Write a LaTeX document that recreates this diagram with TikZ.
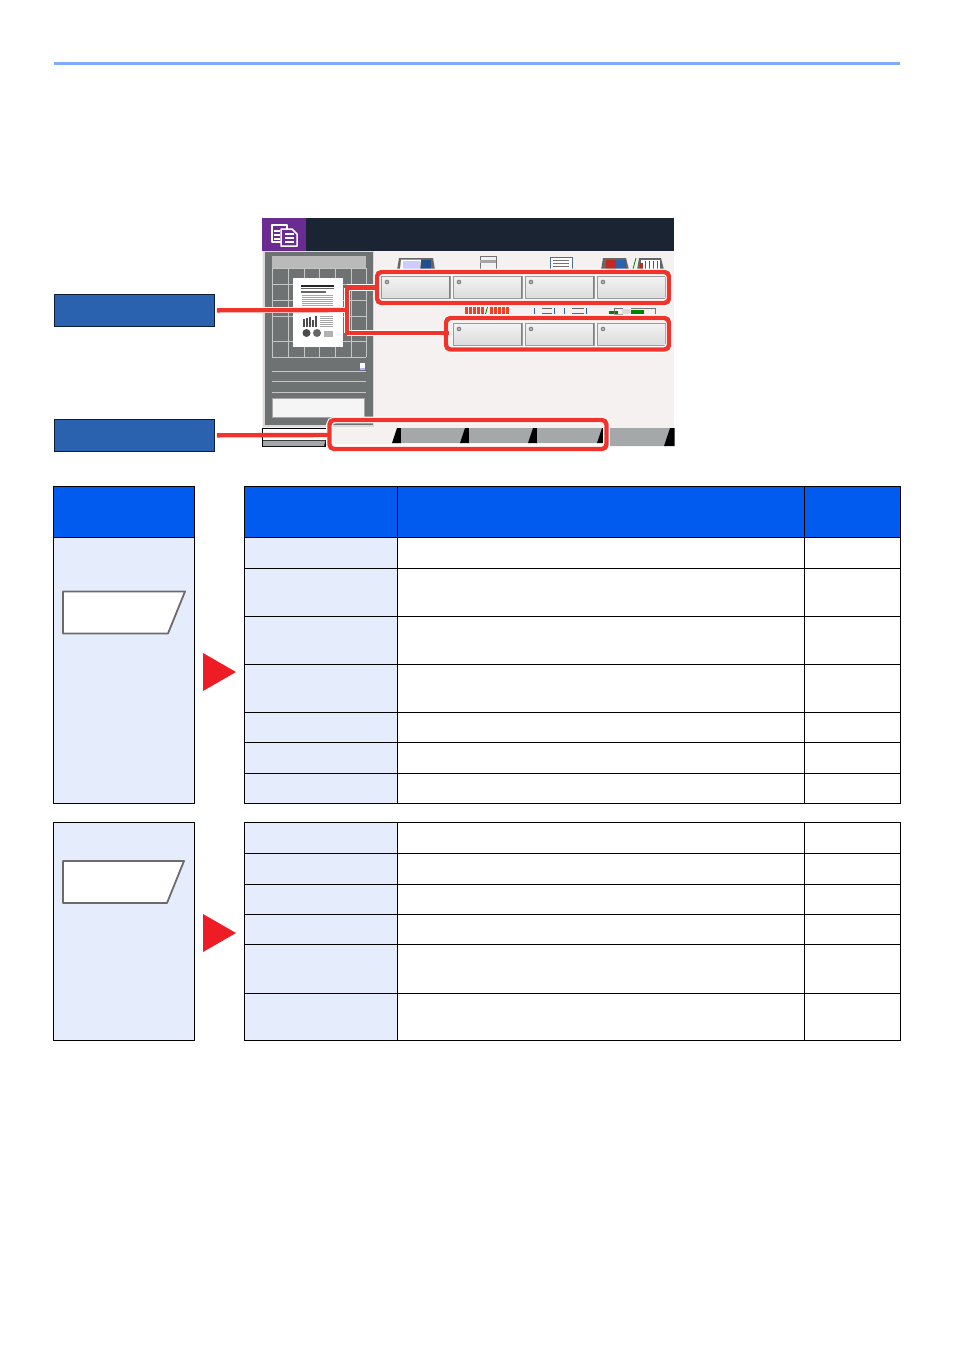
\documentclass[tikz,border=0pt]{standalone}
\usetikzlibrary{calc}
\definecolor{hdr}{HTML}{005BEE}
\definecolor{cellb}{HTML}{E5ECFC}
\definecolor{lab}{HTML}{2B62AF}
\definecolor{rd}{HTML}{F0342C}
\definecolor{tri}{HTML}{EE1C25}
\definecolor{scr}{HTML}{F5F1F0}
\definecolor{pan}{HTML}{6E7272}
\definecolor{tabg}{HTML}{A4A8A8}
\definecolor{dark}{HTML}{1A2433}
\definecolor{purp}{HTML}{6B2C91}
\definecolor{topl}{HTML}{80AAFA}
\tikzset{
 gridcell/.style={draw=black,line width=0.9pt},
 headcell/.style={gridcell,fill=hdr},
 labelcell/.style={gridcell,fill=cellb},
 plaincell/.style={gridcell,fill=white},
 halo/.style={draw=white,line width=6.8pt,rounded corners=5pt},
 redline/.style={draw=rd,line width=4.4pt,rounded corners=4.5pt},
 parabox/.style={draw=black!58,line width=1.8pt,fill=white,line join=round},
 calloutbox/.style={draw=black!70!lab,line width=0.5pt,fill=lab,inner sep=0pt},
 tabshape/.style={fill=tabg},
 sep/.style={fill=black},
 arrowtri/.style={fill=tri}
}
\newcommand{\keyb}[2]{%
 \fill[white!96!black] (#1-1,#2-1) rectangle (#1+71,#2+23);
 \fill[black!12,draw=black!40,line width=.5pt] (#1,#2) rectangle (#1+69,#2+22);
 \shade[top color=black!5,bottom color=black!13] (#1+1,#2+1) rectangle (#1+68,#2+20);
 \fill[black!50] (#1+68,#2) rectangle (#1+69.4,#2+22);
 \fill[black!50] (#1+6,#2+6) circle (2.3pt);
 \fill[black!20] (#1+6,#2+6) circle (1.1pt);}
\begin{document}
\begin{tikzpicture}[x=1pt,y=-1pt]
\useasboundingbox (0,0) rectangle (954,1350);
\fill[white] (0,0) rectangle (954,1350);
\draw[topl,line width=2.8pt] (54,63.5) -- (900,63.5);

% screen
\fill[scr] (262,251) rectangle (674,428);
\fill[dark] (306,218) rectangle (674,251);
\fill[purp] (262,218) rectangle (306,251);
% doc icon
\draw[white,line width=1.5pt,fill=purp,line join=round] (272,225) -- (287,225) -- (287,242) -- (272,242) -- cycle;
\draw[white,line width=1.5pt,fill=purp,line join=round] (281,229) -- (292,229) -- (297,234) -- (297,246) -- (281,246) -- cycle;
\foreach \yy in {234,238,242} \draw[white,line width=1.3pt] (285,\yy) -- (294,\yy);
\foreach \yy in {231,235,239} \draw[white,line width=1.3pt] (274,\yy) -- (280,\yy);

% left panel
\fill[white!85!black] (263,251) rectangle (374,427);
\fill[pan] (265,252) rectangle (373,425);
\fill[black!27] (272,256) rectangle (366,268);
\begin{scope}[draw=white!60!pan,line width=.5pt]
\foreach \xx in {272,288,304,319,335,351,366} \draw (\xx,268) -- (\xx,357);
\foreach \yy in {268,284,300,316,341,357} \draw (272,\yy) -- (366,\yy);
\foreach \yy in {371,381,392} \draw (272,\yy) -- (366,\yy);
\end{scope}
\fill[white] (293,278) rectangle (343,347);
\fill[black!85] (301,285) rectangle (334,286.6);
\fill[black!60] (301,288) rectangle (334,289.4);
\fill[black!60] (301,291) rectangle (326,292.6);
\foreach \yy in {295,297,299,301,303,305,307} \fill[black!35] (302,\yy) rectangle (333,\yy+.9);
\foreach \xx/\hh in {303/8,306/9,309/10,312/7,315/11} \fill[black!70] (\xx,327-\hh) rectangle (\xx+1.5,327);
\foreach \yy in {316,318,320,322,324,326} \fill[black!35] (320,\yy) rectangle (333,\yy+.9);
\fill[black!70] (306.5,333) circle (4pt);
\fill[black!60] (317,333) circle (4pt);
\fill[black!30] (324,331) rectangle (333,337);
\fill[white] (360,363) rectangle (364.5,370);
\fill[blue!30] (360,368) rectangle (364.5,370);
\fill[white!96!black,draw=black!35,line width=.5pt] (272,398) rectangle (364,417);

% icons above keys
\fill[black!60] (399,258) -- (433,258) -- (435,270) -- (397,270) -- cycle;
\fill[white] (401,259.5) -- (421,259.5) -- (420,270) -- (400,270) -- cycle;
\fill[blue!20] (403,261) rectangle (420,270);
\fill[lab!80!black] (421,260) rectangle (431,270);
\draw[black!55,line width=.9pt,fill=black!5] (480,270) -- (480,256) -- (496,256) -- (496,270);
\fill[black!35] (480,260) rectangle (496,263);
\draw[lab!60!gray,line width=.8pt,fill=white] (550,257) rectangle (572,270);
\foreach \yy in {260,263,266} \draw[black!55,line width=.7pt] (553,\yy) -- (569,\yy);
\fill[black!60] (603,258) -- (626,258) -- (629,270) -- (601,270) -- cycle;
\fill[rd!80!black] (606,260) rectangle (616,270);
\fill[lab] (616,260) rectangle (626,270);
\draw[green!50!black,line width=.8pt] (633,269) -- (636,258);
\fill[black!60] (639,258) -- (661,258) -- (664,270) -- (637,270) -- cycle;
\fill[white] (641,260) rectangle (660,270);
\foreach \xx in {645,649,653,657} \draw[lab,line width=.9pt] (\xx,261) -- (\xx,270);
\fill[rd!80!black] (640,263) rectangle (643,270);

% icons between rows
\foreach \xx in {465,469,473,477,481} \fill[rd!85!orange] (\xx,307) rectangle (\xx+3,314);
\draw[green!50!black,line width=.8pt] (485.5,314) -- (487.5,307);
\foreach \xx in {490,494,498,502,506} \fill[rd!85!orange] (\xx,307) rectangle (\xx+3,314);
\draw[lab,line width=.9pt] (534,308) -- (534,314);
\draw[black!60,line width=.9pt] (542,308) -- (552,308) (542,313) -- (552,313);
\draw[lab,line width=.9pt] (554,308) -- (554,314) (564,308) -- (564,314) (586,308) -- (586,314);
\draw[black!60,line width=.9pt] (572,308) -- (584,308) (572,313) -- (584,313);
\fill[green!50!black] (609,311) rectangle (618,314);
\draw[black!55,line width=.7pt] (614,308) rectangle (622,314);
\fill[green!50!black] (631,310) rectangle (644,314);
\draw[black!55,line width=.8pt] (631,308) -- (655,308) -- (655,314);
\fill[black!15] (622,309) rectangle (630,314);

% key buttons
\keyb{381}{276}
\keyb{453}{276}
\keyb{525}{276}
\keyb{597}{276}
\keyb{453}{323}
\keyb{525}{323}
\keyb{597}{323}

% tabs
\fill[black] (262,427.5) rectangle (326,447);
\fill[white] (263,429) rectangle (326,440);
\fill[tabg] (263,440.5) -- (325.5,440.5) -- (324,446) -- (263,446) -- cycle;
\fill[scr] (331,428) rectangle (674,429);
\fill[scr] (331,429) rectangle (400,444);
\fill[sep] (392,443) -- (397,428) -- (402,428) -- (402,443) -- cycle;
\fill[tabshape] (401,428) -- (467,428) -- (462,443) -- (401,443) -- cycle;
\fill[sep] (460,443) -- (465,428) -- (470,428) -- (470,443) -- cycle;
\fill[tabshape] (469,428) -- (535,428) -- (530,443) -- (469,443) -- cycle;
\fill[sep] (528,443) -- (533,428) -- (538,428) -- (538,443) -- cycle;
\fill[tabshape] (537,428) -- (603,428) -- (598,443) -- (537,443) -- cycle;
\fill[sep] (597,443) -- (602,428) -- (608,428) -- (608,443) -- cycle;
\fill[tabshape] (610,428) -- (671,428) -- (665,446) -- (610,446) -- cycle;
\fill[sep] (664,446) -- (670,428) -- (674.5,428) -- (674.5,446) -- cycle;

% callouts
\node[calloutbox,minimum width=160.5pt,minimum height=32.5pt] (calA) at (134.3,310.3) {};
\node[calloutbox,minimum width=160.5pt,minimum height=32.5pt] (calB) at (134.3,435.3) {};

\coordinate (brT) at (347,287.5);
\coordinate (brB) at (347,333);
\coordinate (brM) at (347,310);
\coordinate (fr3L) at (329,435);

% white halos
\draw[draw=white,line width=6.8pt] (brT) -- (377,287.5) (brB) -- (447,333);
\draw[draw=white,line width=6.8pt] (brT) -- (brB);
\draw[draw=white,line width=6.8pt] (217,310) -- (brM);
\draw[halo] (377,272) rectangle (669,303);
\draw[halo] (446,318) rectangle (669,349.5);
\draw[halo] (329.5,420) rectangle (606.5,449);
% red lines
\draw[rd,line width=4.4pt,line cap=rect] (brT) -- (377,287.5);
\draw[rd,line width=4.4pt,line cap=rect] (brB) -- (447,333);
\draw[rd,line width=4.4pt,line cap=rect] (brT) -- (brB);
\draw[rd,line width=4.4pt] ($(calA.east)+(2,0)$) -- (brM);
\draw[rd,line width=4.4pt] ($(calB.east)+(2,0)$) -- (fr3L);
\draw[redline] (377,272) rectangle (669,303);
\draw[redline] (446,318) rectangle (669,349.5);
\draw[redline] (329.5,420) rectangle (606.5,449);

% table 1 left
\node[labelcell,minimum width=141pt,minimum height=266pt,inner sep=0pt] (L1b) at (123.5,670.5) {};
\node[headcell,minimum width=141pt,minimum height=51pt,inner sep=0pt] (L1h) at (123.5,512) {};
\draw[parabox] (63,591.5) -- (185,591.5) -- (168,633.5) -- (63,633.5) -- cycle;
\fill[arrowtri] (203,653) -- (236,672) -- (203,691) -- cycle;

% table 1 right
\foreach \ya/\yb in {486/537}{
 \filldraw[headcell] (244,\ya) rectangle (397,\yb);
 \filldraw[headcell] (397,\ya) rectangle (804,\yb);
 \filldraw[headcell] (804,\ya) rectangle (900,\yb);}
\foreach \ya/\yb in {537/568,568/616,616/664,664/712,712/742,742/773,773/803}{
 \filldraw[labelcell] (244,\ya) rectangle (397,\yb);
 \filldraw[plaincell] (397,\ya) rectangle (804,\yb);
 \filldraw[plaincell] (804,\ya) rectangle (900,\yb);}

% table 2 left
\node[labelcell,minimum width=141pt,minimum height=218pt,inner sep=0pt] (L2b) at (123.5,931) {};
\draw[parabox] (63,861) -- (184,861) -- (167,903) -- (63,903) -- cycle;
\fill[arrowtri] (203,914) -- (236,933) -- (203,952) -- cycle;

% table 2 right
\foreach \ya/\yb in {822/853,853/884,884/914,914/944,944/993,993/1040}{
 \filldraw[labelcell] (244,\ya) rectangle (397,\yb);
 \filldraw[plaincell] (397,\ya) rectangle (804,\yb);
 \filldraw[plaincell] (804,\ya) rectangle (900,\yb);}
\end{tikzpicture}
\end{document}
